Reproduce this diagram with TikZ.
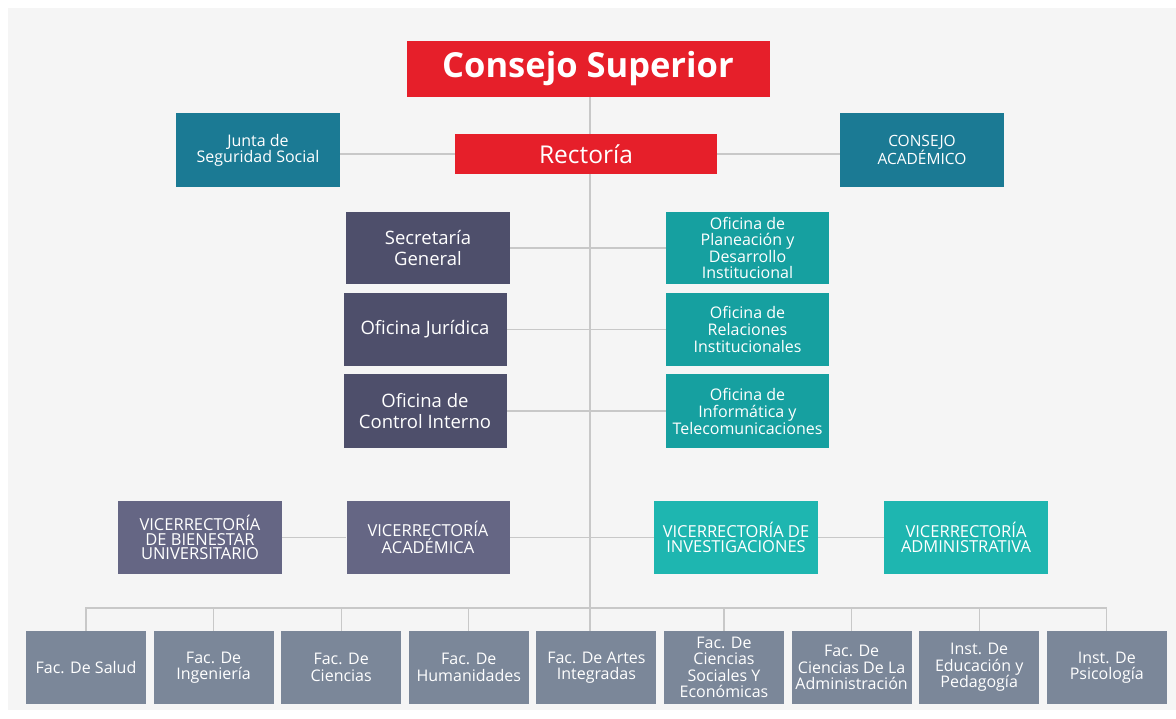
\documentclass[tikz,border=0pt]{standalone}
\usepackage{fontspec}
\setmainfont{Open Sans}
\usepackage{tikz}
\usetikzlibrary{positioning,calc,backgrounds}
\definecolor{rojo}{RGB}{230,31,42}
\definecolor{juntablue}{RGB}{27,122,148}
\definecolor{slate}{RGB}{78,79,107}
\definecolor{ofiteal}{RGB}{22,160,160}
\definecolor{vslate}{RGB}{101,102,132}
\definecolor{vteal}{RGB}{30,182,176}
\definecolor{facgray}{RGB}{123,135,153}
\definecolor{linegray}{RGB}{200,200,200}
\definecolor{bggray}{RGB}{245,245,245}

\tikzset{
  box/.style={rectangle, inner sep=0pt, align=center, text=white,
    minimum width=163pt, minimum height=73pt},
  link/.style={draw=linegray, line width=1.2pt},
}

\begin{document}
\begin{tikzpicture}[x=1pt, y=-1pt]

\useasboundingbox (0,0) rectangle (1176,719);

% === TOP: Consejo y Rectoria ===
\node[box, fill=rojo, minimum width=363pt, minimum height=56pt,
  font={\fontsize{34.5}{36}\selectfont\bfseries}] (cs) at (588,69) {Consejo Superior};
\node[box, fill=rojo, minimum width=262pt, minimum height=40pt,
  font={\fontsize{24.5}{26}\selectfont}] (rect) at (586,154) {Rectoría};
\node[box, fill=juntablue, minimum width=164pt, minimum height=74pt,
  font={\fontsize{16}{14}\selectfont}] (junta) at (258,150) {Junta de\\Seguridad Social};
\node[box, fill=juntablue, minimum width=164pt, minimum height=74pt,
  font={\fontsize{15.5}{14}\selectfont}] (cacad) at (922,150) {CONSEJO\\ACADÉMICO};

% === OFICINAS ===
\node[box, fill=slate, minimum width=164pt, minimum height=72pt,
  font={\fontsize{18.5}{21}\selectfont}] (sec) at (428,248) {Secretaría\\General};
\node[box, fill=slate, font={\fontsize{18.5}{21}\selectfont}] (jur) at (425,329.5) {Oficina Jurídica};
\node[box, fill=slate, font={\fontsize{18.5}{21}\selectfont}] (ctrl) at (425,411) {Oficina de\\Control Interno};

\node[box, fill=ofiteal, minimum height=72pt,
  font={\fontsize{16}{16.5}\selectfont}] (plan) at (747.5,248) {Oficina de\\Planeación y\\Desarrollo\\Institucional};
\node[box, fill=ofiteal, font={\fontsize{16}{17}\selectfont}] (rel) at (747.5,329.5) {Oficina de\\Relaciones\\Institucionales};
\node[box, fill=ofiteal, font={\fontsize{16}{17}\selectfont}] (inf) at (747.5,411) {Oficina de\\Informática y\\Telecomunicaciones};

% === VICERRECTORIAS ===
\node[box, fill=vslate, minimum width=164pt, font={\fontsize{16.5}{14.5}\selectfont}] (bien) at (200,537.5) {VICERRECTORÍA\\DE BIENESTAR\\UNIVERSITARIO};
\node[box, fill=vslate, font={\fontsize{16.5}{14.5}\selectfont}] (acad) at (428,537.5) {VICERRECTORÍA\\ACADÉMICA};
\node[box, fill=vteal, minimum width=164pt, font={\fontsize{16.5}{14.5}\selectfont}] (inv) at (736,537.5) {VICERRECTORÍA DE\\INVESTIGACIONES};
\node[box, fill=vteal, minimum width=164pt, font={\fontsize{16.5}{14.5}\selectfont}] (adm) at (966,537.5) {VICERRECTORÍA\\ADMINISTRATIVA};

% === FACULTADES ===
\foreach \i/\txt in {1/{Fac. De Salud}, 2/{Fac. De\\Ingeniería}, 3/{Fac. De\\Ciencias},
    4/{Fac. De\\Humanidades}, 5/{Fac. De Artes\\Integradas},
    6/{Fac. De\\Ciencias\\Sociales Y\\Económicas}, 7/{Fac. De\\Ciencias De La\\Administración},
    8/{Inst. De\\Educación y\\Pedagogía}, 9/{Inst. De\\Psicología}} {
  \pgfmathsetmacro{\fx}{86+127.6*(\i-1)}
  \node[box, fill=facgray, minimum width=120pt, font={\fontsize{16}{16.5}\selectfont}]
    (f\i) at (\fx,667.5) {\txt};
}

% === LINEAS ===
\begin{scope}[on background layer]
\fill[bggray] (8,8) rectangle (1176,710);
\coordinate (bus) at (0,608);
\coordinate (trunk) at (590,0);
\draw[link] (cs.south -| trunk) -- (f5.north -| trunk);
\draw[link] (rect.west) -- (rect.west -| junta.east);
\draw[link] (rect.east) -- (rect.east -| cacad.west);
\draw[link] (sec) -- (plan);
\draw[link] (jur) -- (rel);
\draw[link] (ctrl) -- (inf);
\draw[link] (bien) -- (acad);
\draw[link] (acad) -- (inv);
\draw[link] (inv) -- (adm);
\draw[link] (f1.north) -- (f1.north |- bus) -- (f9.north |- bus) -- (f9.north);
\foreach \i in {2,3,4,6,7,8} {\draw[link] (f\i.north) -- (f\i.north |- bus);}
\end{scope}

\end{tikzpicture}
\end{document}
